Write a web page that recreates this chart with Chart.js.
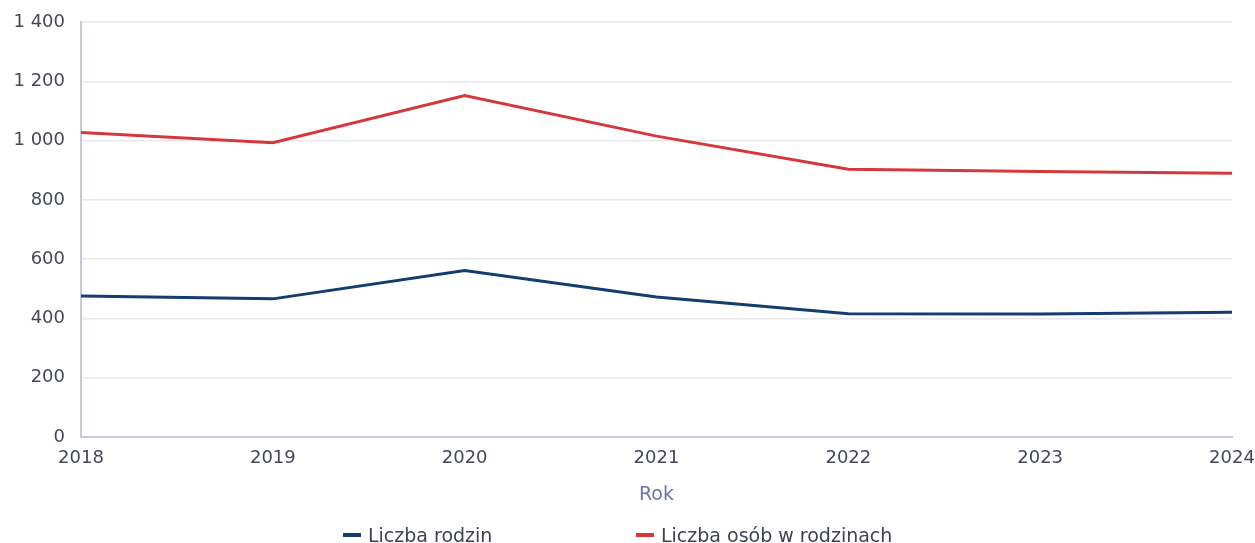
<!DOCTYPE html>
<html>
<head>
<meta charset="utf-8">
<script src="https://cdn.jsdelivr.net/npm/chart.js@4.4.1/dist/chart.umd.min.js"></script>
<style>
  html, body { margin: 0; padding: 0; background: #ffffff; }
  #wrap { position: relative; width: 1255px; height: 543px; }
  #c { display: block; }
  #legend { position: absolute; left: 0; top: 523px; height: 24px; width: 1255px;
            font-family: "DejaVu Sans", sans-serif; font-size: 19px; color: #3f4350; }
  .li { position: absolute; top: 0; display: flex; align-items: center; height: 24px; white-space: nowrap; }
  .mk { width: 18px; height: 4px; margin-right: 7px; }
</style>
</head>
<body>
<div id="wrap">
  <canvas id="c" width="1255" height="543"></canvas>
  <div id="legend"></div>
</div>
<script>
// ---- data ----
const years = ["2018", "2019", "2020", "2021", "2022", "2023", "2024"];
const seriesNames = ["Liczba rodzin", "Liczba osób w rodzinach"];
const liczbaRodzin = [476, 466, 562, 472, 416, 415, 421];
const liczbaOsob = [1027, 993, 1152, 1015, 903, 896, 890];
const yTicks = [0, 200, 400, 600, 800, 1000, 1200, 1400];
const xTitle = "Rok";

// ---- styles ----
const BLUE = "#123d6e";
const RED = "#d5383b";
const TEXT = "#454956";
const FONT = "DejaVu Sans";
const legendLefts = [343, 636];

const fmt = v => String(v).replace(/\B(?=(\d{3})+(?!\d))/g, " ");

const htmlLegend = {
  id: "htmlLegend",
  afterUpdate(chart) {
    const box = document.getElementById("legend");
    box.innerHTML = "";
    chart.data.datasets.forEach((ds, i) => {
      const item = document.createElement("div");
      item.className = "li";
      item.style.left = legendLefts[i] + "px";
      const mk = document.createElement("span");
      mk.className = "mk";
      mk.style.background = ds.borderColor;
      const tx = document.createElement("span");
      tx.textContent = ds.label;
      item.appendChild(mk);
      item.appendChild(tx);
      box.appendChild(item);
    });
  }
};

new Chart(document.getElementById("c"), {
  type: "line",
  data: {
    labels: years,
    datasets: [
      { label: seriesNames[0], data: liczbaRodzin, borderColor: BLUE, backgroundColor: BLUE,
        borderWidth: 3, pointRadius: 0, tension: 0 },
      { label: seriesNames[1], data: liczbaOsob, borderColor: RED, backgroundColor: RED,
        borderWidth: 3, pointRadius: 0, tension: 0 }
    ]
  },
  options: {
    responsive: false,
    animation: false,
    layout: { padding: { left: 0, right: 23, top: 22, bottom: 31 } },
    plugins: {
      legend: { display: false },
      tooltip: { enabled: false }
    },
    scales: {
      x: {
        offset: false,
        grid: { display: false, drawTicks: false },
        border: { display: true, color: "#c6c9d9", width: 2 },
        ticks: { color: TEXT, font: { family: FONT, size: 18 }, padding: 11, maxRotation: 0 },
        title: { display: true, text: xTitle, color: "#6c74a6",
                 font: { family: FONT, size: 19 }, padding: { top: 0, bottom: 6 } },
        afterFit(s) { s.height = 75; s.paddingLeft = 0; s.paddingRight = 0; }
      },
      y: {
        min: 0, max: 1400,
        afterBuildTicks(s) { s.ticks = yTicks.map(v => ({ value: v })); },
        grid: { color: "#e7e7ee", lineWidth: 1.5, drawTicks: false },
        border: { display: true, color: "#c6c9d9", width: 2 },
        ticks: { color: TEXT, font: { family: FONT, size: 18 }, padding: 16,
                 callback: v => fmt(v) },
        afterFit(s) { s.width = 81; s.paddingTop = 0; s.paddingBottom = 0; }
      }
    }
  },
  plugins: [htmlLegend]
});
</script>
</body>
</html>
